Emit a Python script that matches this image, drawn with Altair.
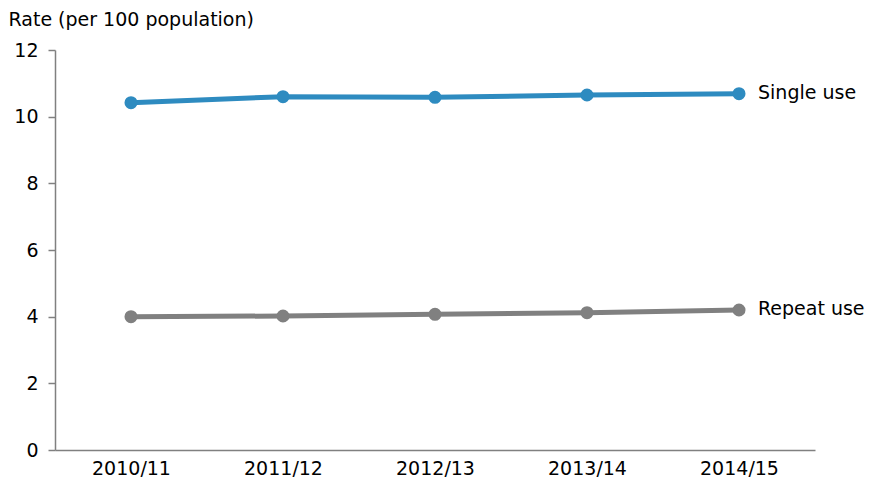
import altair as alt
import pandas as pd

years = ["2010/11", "2011/12", "2012/13", "2013/14", "2014/15"]
single_use = [10.42, 10.6, 10.58, 10.65, 10.69]
repeat_use = [4.0, 4.02, 4.07, 4.12, 4.2]
series_names = ["Single use", "Repeat use"]
series_colors = ["#2E8BC0", "#808080"]

rows = []
for name, vals in zip(series_names, [single_use, repeat_use]):
    for y, v in zip(years, vals):
        rows.append({"year": y, "rate": v, "series": name})
df = pd.DataFrame(rows)
last = df[df["year"] == years[-1]]

FONT = "DejaVu Sans"
FS = 19

x = alt.X("year:N", sort=years,
          scale=alt.Scale(type="point", padding=0.5),
          axis=alt.Axis(title=None, ticks=False, labelPadding=9, labelFontSize=FS,
                        labelColor="#000", labelFont=FONT, domainColor="#808080",
                        domainWidth=1.5, labelAngle=0))
y = alt.Y("rate:Q", scale=alt.Scale(domain=[0, 12]),
          axis=alt.Axis(values=[0, 2, 4, 6, 8, 10, 12], grid=False, tickSize=7,
                        tickColor="#808080", tickWidth=1.5, domainColor="#808080",
                        domainWidth=1.5, labelFontSize=FS, labelColor="#000",
                        labelFont=FONT, labelPadding=10,
                        title="Rate (per 100 population)", titleAngle=0,
                        titleAlign="left", titleBaseline="alphabetic",
                        titleX=-47, titleY=-25, titleFontSize=FS,
                        titleFontWeight="normal", titleFont=FONT, titleColor="#000"))
color = alt.Color("series:N", scale=alt.Scale(domain=series_names, range=series_colors),
                  legend=None)

lines = alt.Chart(df).mark_line(strokeWidth=5).encode(x=x, y=y, color=color)
points = alt.Chart(df).mark_circle(size=170, opacity=1).encode(x=x, y=y, color=color)
labels = alt.Chart(last).mark_text(align="left", baseline="middle", dx=19, dy=-1,
                                   fontSize=FS, font=FONT, color="#000").encode(
    x=x, y=y, text="series:N")

chart = (lines + points + labels).properties(
    width=760, height=400,
    autosize=alt.AutoSizeParams(type="none"),
    padding={"left": 47, "top": 42, "right": 62, "bottom": 35},
).configure_view(stroke=None)

chart.save("out.html", embed_options={"renderer": "svg", "actions": False})
